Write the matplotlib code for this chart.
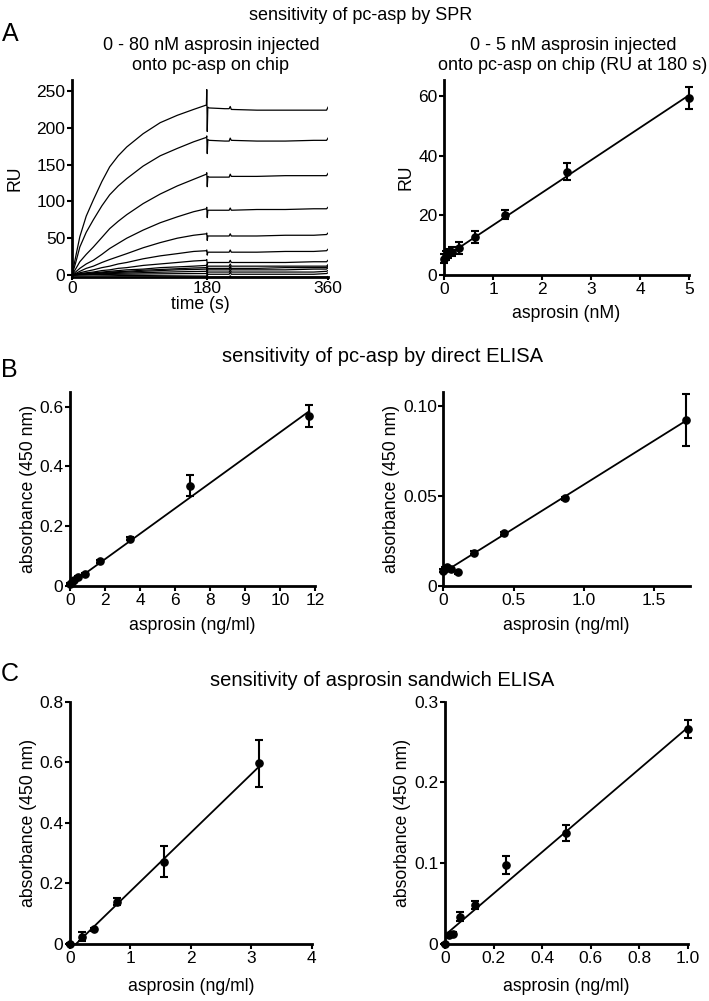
import matplotlib
matplotlib.use("Agg")
import matplotlib.pyplot as plt
from matplotlib import font_manager

plt.rcParams['font.family'] = ['Liberation Sans', 'DejaVu Sans']
_names = {f.name for f in font_manager.fontManager.ttflist}
NARROW = 'Liberation Sans Narrow' if 'Liberation Sans Narrow' in _names else 'Liberation Sans'

W, H = 709, 1001

# ---------------- Panel A left: SPR sensorgrams ----------------
t_sensor = [0, 5, 11, 20, 30, 42, 53, 65, 77, 100, 124, 148, 171, 189,
            189.5, 190.2, 191, 193, 215, 221, 222.5, 224, 260, 300, 340, 358, 360]
ru_80nM = [0, 24, 52, 80, 102, 127, 147, 162, 174, 192, 207, 217, 225, 231,
           252, 195, 228, 227, 226, 226, 229, 225, 224, 224, 224, 224, 228]
ru_40nM = [0, 16, 38, 58, 75, 94, 109, 121, 131, 148, 162, 172, 181, 187,
           189, 165, 184, 183, 182, 182, 186, 183, 182, 182, 183, 183, 186]
ru_20nM = [0, 8, 18, 28, 38, 51, 63, 73, 82, 97, 110, 121, 130, 137,
           139, 120, 134, 133, 133, 133, 137, 134, 134, 135, 135, 135, 138]
ru_10nM = [0, 4, 9, 15, 20, 28, 36, 43, 50, 61, 71, 79, 86, 90,
           92, 78, 88, 88, 88, 88, 91, 88, 89, 89, 90, 90, 92]
ru_5nM = [0, 2, 5, 9, 12, 17, 21, 25, 29, 37, 44, 50, 54, 56,
          57, 47, 53, 53, 53, 53, 56, 53, 53, 54, 54, 55, 57]
ru_2_5nM = [0, 1, 3, 5, 7, 10, 12, 15, 17, 22, 26, 29, 32, 33,
            34, 27, 31, 31, 31, 31, 34, 31, 31, 32, 32, 33, 35]
ru_1_25nM = [0, 1, 2, 3, 4, 6, 7, 9, 10, 13, 15, 17, 19, 20,
             21, 14, 17, 17, 17, 17, 20, 17, 17, 17, 18, 18, 20]
ru_0_625nM = [0, 0.5, 1, 2, 3, 4, 5, 6, 7, 8, 10, 11, 12, 13,
              14, 8, 12, 12, 12, 12, 15, 12, 12, 12, 12, 12, 14]
ru_0_3125nM = [0, 0.4, 1, 1.5, 2, 3, 4, 4.5, 5, 6.5, 7.5, 8.5, 9.5, 10,
               11, 6, 9, 9, 9, 9, 12, 9, 9, 10, 10, 10, 12]
ru_0_156nM = [0, 0.3, 0.8, 1.2, 1.8, 2.5, 3, 3.5, 4, 5, 6, 7, 7.5, 8,
              9, 4, 7, 7, 7, 7, 10, 7, 7, 7, 8, 8, 10]
ru_0_078nM = [0, 0.2, 0.5, 0.8, 1.2, 1.6, 2, 2.3, 2.6, 3.2, 3.8, 4.3, 4.7, 5,
              6, 1, 4, 4, 4, 4, 7, 4, 4, 4, 4, 5, 6]
ru_0_039nM = [0, 0.1, 0.2, 0.3, 0.5, 0.7, 0.8, 1, 1.1, 1.3, 1.6, 1.8, 1.9, 2,
              3, -2, 1, 1, 1, 1, 4, 1, 1, 1, 1, 2, 3]
ru_0nM = [0, 0, 0, 0, 0, -0.2, -0.3, -0.5, -0.6, -0.8, -1, -1.2, -1.4, -1.5,
          -1, -5, -3, -3, -3, -3, -1, -3, -3, -3, -3, -3, -2]
spr_tick_pos = [0, 190, 360]
spr_tick_labels = ["0", "180", "360"]

# ---------------- Panel A right: RU at 180 s ----------------
a2_x = [0, 0.039, 0.078, 0.156, 0.3125, 0.625, 1.25, 2.5, 5]
a2_y = [5.5, 6.5, 7.3, 7.8, 8.9, 12.8, 20.1, 34.6, 59.3]
a2_err = [1.5, 1.5, 1.5, 1.5, 2.0, 2.0, 1.5, 2.9, 3.8]
a2_fit_x = [0, 5]
a2_fit_y = [5.8, 60.2]

# ---------------- Panel B left: direct ELISA ----------------
b1_x = [0, 0.09, 0.18, 0.37, 0.73, 1.47, 2.93, 5.86, 11.72]
b1_y = [0.007, 0.012, 0.020, 0.031, 0.040, 0.083, 0.158, 0.336, 0.569]
b1_err = [0.003, 0.003, 0.004, 0.004, 0.004, 0.005, 0.005, 0.036, 0.036]
b1_fit_x = [0, 11.72]
b1_fit_y = [0.005, 0.585]
b1_tick_pos = [0, 1.714, 3.429, 5.143, 6.857, 8.571, 10.286, 12.0]
b1_tick_labels = ["0", "2", "4", "6", "8", "9", "10", "12"]

# ---------------- Panel B right: direct ELISA (low range) ----------------
b2_x = [0, 0.0135, 0.027, 0.054, 0.108, 0.217, 0.433, 0.866, 1.73]
b2_y = [0.0085, 0.0095, 0.0104, 0.0093, 0.0076, 0.0185, 0.0293, 0.0487, 0.0922]
b2_err = [0.0008, 0.0008, 0.0008, 0.0008, 0.0008, 0.0008, 0.0008, 0.0008, 0.0146]
b2_fit_x = [0, 1.73]
b2_fit_y = [0.0075, 0.092]

# ---------------- Panel C left: sandwich ELISA ----------------
c1_x = [0, 0.195, 0.39, 0.78, 1.5625, 3.125]
c1_y = [0.0, 0.024, 0.048, 0.140, 0.272, 0.596]
c1_err = [0.003, 0.015, 0.006, 0.012, 0.05, 0.076]
c1_fit_x = [0, 3.125]
c1_fit_y = [-0.019, 0.585]

# ---------------- Panel C right: sandwich ELISA (low range) ----------------
c2_x = [0, 0.0156, 0.031, 0.0625, 0.125, 0.25, 0.5, 1.0]
c2_y = [0.0, 0.011, 0.013, 0.034, 0.048, 0.098, 0.137, 0.266]
c2_err = [0.001, 0.002, 0.002, 0.006, 0.005, 0.011, 0.010, 0.011]
c2_fit_x = [0, 1.0]
c2_fit_y = [0.011, 0.268]

FS_TICK = 12.5
FS_LAB = 12.7
FS_SUB = 13
FS_TITLE = 14.5
fig = plt.figure(figsize=(W / 100, H / 100), dpi=100)


def add_ax(x0, x1, y0, y1):
    # pixel box (top-origin) -> figure fraction
    return fig.add_axes([x0 / W, 1 - y1 / H, (x1 - x0) / W, (y1 - y0) / H])


def style(ax):
    for s in ('top', 'right'):
        ax.spines[s].set_visible(False)
    for s in ('left', 'bottom'):
        ax.spines[s].set_linewidth(2.0)
    ax.tick_params(direction='out', length=3.5, width=1.5, labelsize=FS_TICK, pad=1.2)


def ftext(x, y, s, **kw):
    fig.text(x / W, 1 - y / H, s, **kw)


def scatter_panel(ax, x, y, err, fx, fy):
    ax.plot(fx, fy, color='black', lw=1.3, zorder=2)
    ax.errorbar(x, y, yerr=err, fmt='o', color='black', ms=5.2, elinewidth=1.5,
                capsize=3, capthick=1.5, zorder=3, clip_on=False)


# A left
ax = add_ax(72, 328, 80, 277.2)
curves = [ru_80nM, ru_40nM, ru_20nM, ru_10nM, ru_5nM, ru_2_5nM, ru_1_25nM,
          ru_0_625nM, ru_0_3125nM, ru_0_156nM, ru_0_078nM, ru_0_039nM, ru_0nM]
for c in curves:
    ax.plot(t_sensor, c, color='black', lw=0.9)
ax.set_xlim(0, 360)
ax.set_ylim(-3, 265)
ax.set_xticks(spr_tick_pos)
ax.set_xticklabels(spr_tick_labels)
ax.set_yticks([0, 50, 100, 150, 200, 250])
style(ax)
ax.tick_params(axis='x', length=2, pad=0.5)
ax.set_xlabel('time (s)', fontsize=FS_LAB, labelpad=0)
ax.set_ylabel('RU', fontsize=FS_LAB, labelpad=9)

# A right
ax = add_ax(444, 689, 80, 275)
scatter_panel(ax, a2_x, a2_y, a2_err, a2_fit_x, a2_fit_y)
ax.set_xlim(0, 5)
ax.set_ylim(0, 65.3)
ax.set_xticks([0, 1, 2, 3, 4, 5])
ax.set_yticks([0, 20, 40, 60])
style(ax)
ax.set_xlabel('asprosin (nM)', fontsize=FS_LAB, labelpad=6)
ax.set_ylabel('RU', fontsize=FS_LAB, labelpad=3)

# B left
ax = add_ax(70, 315, 391.7, 586)
scatter_panel(ax, b1_x, b1_y, b1_err, b1_fit_x, b1_fit_y)
ax.set_xlim(0, 12)
ax.set_ylim(0, 0.65)
ax.set_xticks(b1_tick_pos)
ax.set_xticklabels(b1_tick_labels)
ax.set_yticks([0, 0.2, 0.4, 0.6])
ax.set_yticklabels(["0", "0.2", "0.4", "0.6"])
style(ax)
ax.set_xlabel('asprosin (ng/ml)', fontsize=FS_LAB, labelpad=7)
ax.set_ylabel('absorbance (450 nm)', fontsize=FS_LAB, labelpad=2)

# B right
ax = add_ax(443.3, 690, 391.7, 586)
scatter_panel(ax, b2_x, b2_y, b2_err, b2_fit_x, b2_fit_y)
ax.set_xlim(0, 1.756)
ax.set_ylim(0, 0.108)
ax.set_xticks([0, 0.5, 1.0, 1.5])
ax.set_xticklabels(["0", "0.5", "1.0", "1.5"])
ax.set_yticks([0, 0.05, 0.10])
ax.set_yticklabels(["0", "0.05", "0.10"])
style(ax)
ax.set_xlabel('asprosin (ng/ml)', fontsize=FS_LAB, labelpad=7)
ax.set_ylabel('absorbance (450 nm)', fontsize=FS_LAB, labelpad=2)

# C left
ax = add_ax(70, 311.7, 701.7, 944)
scatter_panel(ax, c1_x, c1_y, c1_err, c1_fit_x, c1_fit_y)
ax.set_xlim(0, 4)
ax.set_ylim(0, 0.8)
ax.set_xticks([0, 1, 2, 3, 4])
ax.set_yticks([0, 0.2, 0.4, 0.6, 0.8])
ax.set_yticklabels(["0", "0.2", "0.4", "0.6", "0.8"])
style(ax)
ax.set_xlabel('asprosin (ng/ml)', fontsize=FS_LAB, labelpad=9)
ax.set_ylabel('absorbance (450 nm)', fontsize=FS_LAB, labelpad=2)

# C right
ax = add_ax(445, 687.7, 701.7, 944)
scatter_panel(ax, c2_x, c2_y, c2_err, c2_fit_x, c2_fit_y)
ax.set_xlim(0, 1.0)
ax.set_ylim(0, 0.3)
ax.set_xticks([0, 0.2, 0.4, 0.6, 0.8, 1.0])
ax.set_xticklabels(["0", "0.2", "0.4", "0.6", "0.8", "1.0"])
ax.set_yticks([0, 0.1, 0.2, 0.3])
ax.set_yticklabels(["0", "0.1", "0.2", "0.3"])
style(ax)
ax.set_xlabel('asprosin (ng/ml)', fontsize=FS_LAB, labelpad=9)
ax.set_ylabel('absorbance (450 nm)', fontsize=FS_LAB, labelpad=2)

# Titles and panel letters
ftext(361, 15, 'sensitivity of pc-asp by SPR', ha='center', va='center', fontsize=13,
      family=[NARROW, 'DejaVu Sans'])
ftext(211, 45, '0 - 80 nM asprosin injected', ha='center', va='center', fontsize=FS_SUB)
ftext(211, 65, 'onto pc-asp on chip', ha='center', va='center', fontsize=FS_SUB)
ftext(573, 45, '0 - 5 nM asprosin injected', ha='center', va='center', fontsize=FS_SUB)
ftext(573, 65, 'onto pc-asp on chip (RU at 180 s)', ha='center', va='center', fontsize=FS_SUB)
ftext(382, 357, 'sensitivity of pc-asp by direct ELISA', ha='center', va='center', fontsize=FS_TITLE)
ftext(382, 681, 'sensitivity of asprosin sandwich ELISA', ha='center', va='center', fontsize=FS_TITLE)
ftext(10, 34, 'A', ha='center', va='center', fontsize=18, family=[NARROW, 'DejaVu Sans'])
ftext(9, 370, 'B', ha='center', va='center', fontsize=18)
ftext(10, 674, 'C', ha='center', va='center', fontsize=18)

fig.savefig('out.png', dpi=100)
